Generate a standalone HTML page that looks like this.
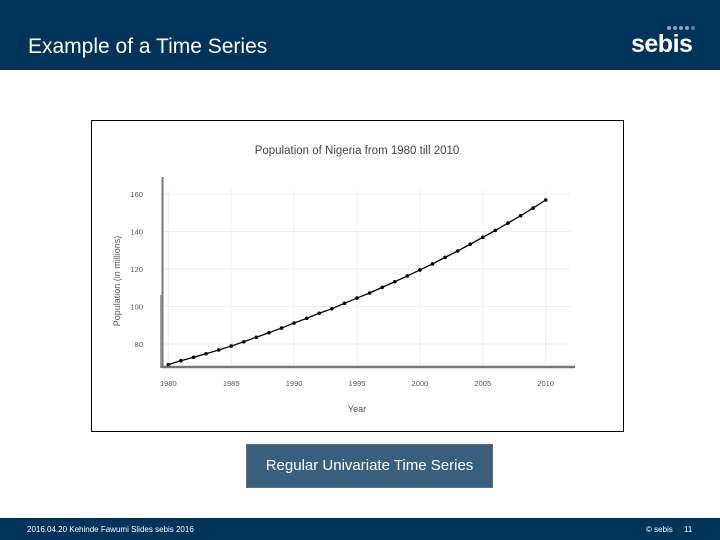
<!DOCTYPE html>
<html><head><meta charset="utf-8"><style>
body{margin:0;width:720px;height:540px;position:relative;background:#fff;font-family:"Liberation Sans",sans-serif;overflow:hidden}
.hdr{position:absolute;left:0;top:0;width:720px;height:70px;background:#003359}
.ttl{position:absolute;left:28px;top:35px;color:#fff;font-size:21px}
.logo{position:absolute;left:631px;top:30px;color:#fff;font-size:25px;font-weight:bold;letter-spacing:-0.5px}
.ftr{position:absolute;left:0;top:518px;width:720px;height:22px;background:#003359;color:#fff;font-size:8px}
.cap{position:absolute;left:246px;top:444px;width:245px;height:42px;background:#395f7e;border:1px solid #6b6b6b;color:#fff;font-size:15px;text-align:center;line-height:42px}
</style></head><body>
<div class="hdr">
<div class="ttl">Example of a Time Series</div>
<div class="logo">sebis</div>
<svg style="position:absolute;left:666px;top:25px" width="30" height="6">
<circle cx="3" cy="3" r="2" fill="#8fa3ba"/><circle cx="9" cy="3" r="2" fill="#8fa3ba"/><circle cx="15" cy="3" r="2" fill="#8fa3ba"/><circle cx="21" cy="3" r="2" fill="#8fa3ba"/><circle cx="27" cy="3" r="2" fill="#5e7a98"/></svg>
</div>
<svg id="chart" style="position:absolute;left:0;top:0" width="720" height="540">
<rect x="91.5" y="120.5" width="532" height="311" fill="#fff" stroke="#000" stroke-width="1"/>
<text x="357" y="154" text-anchor="middle" font-size="11.5" fill="#444" font-family="Liberation Sans, sans-serif">Population of Nigeria from 1980 till 2010</text>
<text x="357" y="412" text-anchor="middle" font-size="9" fill="#555" font-family="Liberation Sans, sans-serif">Year</text>
<text transform="translate(120,281) rotate(-90)" text-anchor="middle" font-size="9" fill="#555" font-family="Liberation Sans, sans-serif">Population (in millions)</text>
<g id="grid"></g><g id="axes"></g><g id="series"></g>
</svg>
<div class="cap">Regular Univariate Time Series</div>
<div class="ftr">
<span style="position:absolute;left:27px;top:7px">2016.04.20 Kehinde Fawumi Slides sebis 2016</span>
<span style="position:absolute;left:646px;top:7px">© sebis</span>
<span style="position:absolute;left:684px;top:7px">11</span>
</div>
<script>
const years=[1980,1981,1982,1983,1984,1985,1986,1987,1988,1989,1990,1991,1992,1993,1994,1995,1996,1997,1998,1999,2000,2001,2002,2003,2004,2005,2006,2007,2008,2009,2010];
const population=[69,71.1,72.9,74.8,76.8,78.9,81.2,83.6,86.0,88.5,91.2,93.7,96.4,98.8,101.7,104.5,107.2,110.2,113.2,116.3,119.5,122.7,126.2,129.6,133.2,136.9,140.6,144.5,148.4,152.5,156.8];
const xTicks=[1980,1985,1990,1995,2000,2005,2010];
const yTicks=[80,100,120,140,160];
const NS='http://www.w3.org/2000/svg';
function X(v){return 168.3+(v-1980)*(545.7-168.3)/30;}
function Y(v){return 344-(v-80)*(344-194)/80;}
function mk(t,a,p){const e=document.createElementNS(NS,t);for(const k in a)e.setAttribute(k,a[k]);p.appendChild(e);return e;}
const g=document.getElementById('grid'),ax=document.getElementById('axes'),s=document.getElementById('series');
xTicks.forEach(v=>{
 const l=mk('line',{x1:X(v),x2:X(v),y1:190,y2:366,stroke:'#eee','stroke-width':1},g);
 
 
 const t=mk('text',{x:X(v),y:386,'text-anchor':'middle','font-size':7.5,fill:'#555','font-family':'Liberation Sans, sans-serif'},ax);
 t.textContent=v;
 
 
});
yTicks.forEach(v=>{
 const l=mk('line',{x1:163,x2:570,y1:Y(v),y2:Y(v),stroke:'#eee','stroke-width':1},g);
 
 
 const t=mk('text',{x:143,y:Y(v)+3,'text-anchor':'end','font-size':7.5,fill:'#555','font-family':'Liberation Sans, sans-serif'},ax);
 t.textContent=v;
 
 
});
const ya=mk('line',{x1:162.5,x2:162.5,y1:177,y2:368,stroke:'#777','stroke-width':2},ax);


const ya2=mk('line',{x1:160.8,x2:160.8,y1:295,y2:368,stroke:'#777','stroke-width':1},ax);


const xa=mk('line',{x1:161,x2:575,y1:367,y2:367,stroke:'#777','stroke-width':2.5},ax);


const pts=years.map((y,i)=>X(y)+','+Y(population[i])).join(' ');
const pl=mk('polyline',{points:pts,fill:'none',stroke:'#000','stroke-width':1.3},s);


years.forEach((y,i)=>{
 const c=mk('circle',{cx:X(y),cy:Y(population[i]),r:1.8,fill:'#000'},s);
 
 
});
</script>
</body></html>
